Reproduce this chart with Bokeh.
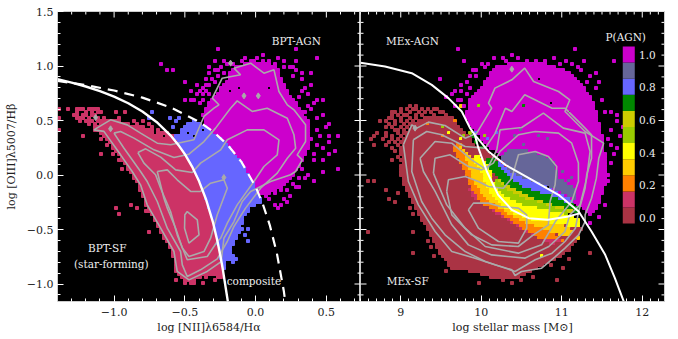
import numpy as np
from bokeh.plotting import figure
from bokeh.layouts import row
from bokeh.models import FixedTicker, ColumnDataSource
from bokeh.core.properties import value
from bokeh.embed import file_html
from bokeh.resources import INLINE

FONT = "DejaVu Serif"
GRAY = "#aaaaaa"

# ---------- class colours (P(AGN) 0.0 .. 1.0) ----------
P_VALUES = [0.0, 0.1, 0.2, 0.3, 0.4, 0.5, 0.6, 0.7, 0.8, 0.9, 1.0]
P_COLORS = ["#aa3344", "#cc3366", "#ff8000", "#ffcc00", "#ffff00", "#99cc00",
            "#cccc00", "#008800", "#6666ff", "#666699", "#cc00cc"]
P_LABELS = [0.0, 0.2, 0.4, 0.6, 0.8, 1.0]

# ---------- left panel: demarcation lines ----------
kauff_x = [-1.4, -1.3, -1.2, -1.1, -1.0, -0.9, -0.8, -0.7, -0.6, -0.55, -0.5, -0.45, -0.4, -0.35, -0.3, -0.27, -0.25, -0.23, -0.21, -0.195]
kauff_y = [0.879, 0.848, 0.812, 0.77, 0.719, 0.658, 0.582, 0.487, 0.362, 0.283, 0.191, 0.08, -0.056, -0.225, -0.44, -0.606, -0.733, -0.879, -1.046, -1.17]
kewley_x = [-1.4, -1.2, -1.0, -0.8, -0.6, -0.4, -0.3, -0.2, -0.1, 0.0, 0.05, 0.1, 0.15, 0.2, 0.21]
kewley_y = [0.864, 0.825, 0.775, 0.71, 0.62, 0.489, 0.398, 0.28, 0.12, -0.108, -0.262, -0.459, -0.716, -1.069, -1.17]

# ---------- left panel: dense regions ----------
sf_x = [-1.15, -1.02, -0.9, -0.78, -0.66, -0.59, -0.55, -0.5, -0.45, -0.4, -0.35, -0.3, -0.27, -0.25, -0.23, -0.225, -0.3, -0.38, -0.47, -0.52, -0.57, -0.59, -0.68, -0.78, -0.83, -0.89, -0.97, -1.09]
sf_y = [0.41, 0.52, 0.47, 0.43, 0.40, 0.38, 0.283, 0.191, 0.08, -0.056, -0.225, -0.44, -0.606, -0.733, -0.88, -0.96, -0.93, -0.93, -0.99, -0.95, -0.88, -0.72, -0.5, -0.28, -0.09, 0.02, 0.18, 0.38]
comp_x = [-0.58, -0.53, -0.48, -0.44, -0.4, -0.3, -0.2, -0.1, 0.0, 0.047, -0.035, -0.082, -0.13, -0.177, -0.13, -0.212, -0.2, -0.236, -0.23, -0.25, -0.27, -0.3, -0.35, -0.4, -0.45, -0.5, -0.55]
comp_y = [0.35, 0.40, 0.47, 0.50, 0.489, 0.398, 0.28, 0.12, -0.108, -0.243, -0.304, -0.396, -0.58, -0.702, -0.77, -0.794, -0.87, -0.88, -0.88, -0.733, -0.606, -0.44, -0.225, -0.056, 0.08, 0.191, 0.283]
agn_x = [-0.36, -0.377, -0.318, -0.259, -0.2, -0.177, -0.035, 0.153, 0.188, 0.247, 0.318, 0.377, 0.389, 0.342, 0.283, 0.224, 0.071, 0.024, 0.0, -0.1, -0.2, -0.3]
agn_y = [0.46, 0.552, 0.674, 0.781, 0.873, 0.98, 1.047, 1.01, 0.858, 0.735, 0.613, 0.46, 0.307, 0.154, 0.032, -0.075, -0.197, -0.182, -0.108, 0.12, 0.28, 0.398]

# sparse histogram bins (column, row from the top)
left_agn_cols = [53, 68, 79, 52, 55, 61, 68, 73, 79, 86, 34, 36, 38, 50, 52, 54, 59, 50, 53, 77, 81, 84, 52, 49, 48, 50, 47, 49, 42, 44, 42, 45, 48, 50, 51, 75, 79, 78, 81, 82, 84, 83, 86, 83, 88, 84, 88, 90, 86, 90, 93, 90, 86, 92, 88, 93, 85, 81, 80, 78, 75, 74, 77, 72, 73, 79, 82, 85, 88, 76,
                 56, 58, 63, 65, 70, 72, 75, 78, 62, 66, 80, 81, 85, 82, 86, 83, 89, 87, 84, 88, 85, 90, 46, 44, 47, 49, 51, 53, 55, 46, 48, 50, 83, 80, 76, 72, 75, 70, 74, 68, 70]
left_agn_rows = [12, 14, 12, 16, 16, 16, 16, 15, 16, 15, 17, 19, 19, 18, 19, 18, 19, 20, 19, 18, 20, 20, 23, 22, 25, 24, 26, 26, 29, 26, 23, 29, 29, 27, 30, 16, 19, 21, 22, 25, 24, 27, 29, 31, 29, 32, 34, 37, 39, 41, 41, 43, 44, 46, 49, 52, 49, 52, 55, 57, 57, 59, 61, 64, 65, 58, 55, 56, 53, 63,
                 17, 17, 17, 16, 16, 17, 18, 18, 15, 15, 28, 26, 30, 33, 35, 36, 38, 41, 42, 45, 47, 47, 27, 29, 30, 24, 22, 21, 20, 24, 27, 30, 54, 58, 59, 60, 62, 62, 64, 60, 58]
left_sf_cols = [0, 3, 14, 19, 22, 6, 9, 14, 8, 13, 14, 18, 20, 14, 21, 25, 28, 30, 33, 0, 0, 19, 20, 24, 26, 29, 25, 27, 29, 30, 33, 35, 37, 39, 39, 42, 44, 45, 48, 52, 53, 49, 51, 17, 20, 23, 26, 28, 31, 16, 18,
                6, 7, 8, 10, 11, 12, 13, 6, 9, 11, 13, 5, 6, 8, 9, 11, 12, 7, 8, 10, 13, 15, 7, 10, 11, 13, 15, 16, 10, 12, 14, 15, 17, 12, 16, 18, 15, 17]
left_sf_rows = [32, 32, 33, 33, 33, 35, 36, 36, 41, 39, 42, 44, 49, 47, 52, 36, 36, 37, 39, 35, 39, 65, 67, 64, 65, 66, 55, 57, 60, 73, 70, 73, 76, 79, 89, 90, 90, 90, 90, 89, 86, 88, 87, 37, 35, 38, 37, 38, 38, 44, 47,
                32, 32, 32, 32, 32, 32, 32, 33, 33, 33, 33, 34, 34, 34, 34, 34, 34, 35, 35, 35, 35, 35, 36, 36, 36, 36, 36, 36, 37, 37, 37, 37, 37, 38, 38, 38, 39, 39]
left_comp_cols = [31, 30, 37, 39, 38, 40, 63, 61, 59, 63, 62, 58]
left_comp_rows = [33, 35, 35, 36, 38, 35, 72, 72, 82, 76, 74, 83]
left_hole_cols = [57, 60, 70, 48, 51, 43, 45, 40, 48, 32, 35]
left_hole_rows = [26, 25, 25, 30, 26, 40, 41, 40, 39, 40, 41]

# ---------- left panel: contours ----------
left_c1_x = [-1.143, -1.025, -0.907, -0.813, -0.695, -0.60, -0.436, -0.365, -0.294, -0.259, -0.306, -0.236, -0.106, -0.153, -0.035, 0.059, 0.13, 0.165, 0.224, 0.271, 0.353, 0.353, 0.294, 0.33, 0.283, 0.247, 0.106, -0.035, -0.094, -0.153, -0.224, -0.243, -0.342, -0.471, -0.554, -0.577, -0.671, -0.766, -0.813, -0.872, -0.954, -1.072]
left_c1_y = [0.414, 0.506, 0.46, 0.384, 0.292, 0.277, 0.323, 0.537, 0.613, 0.644, 0.705, 0.888, 0.919, 0.98, 1.026, 0.934, 0.965, 0.766, 0.644, 0.598, 0.46, 0.307, 0.185, 0.139, 0.032, 0.002, -0.06, -0.151, -0.243, -0.427, -0.58, -0.794, -0.885, -0.962, -0.885, -0.702, -0.488, -0.274, -0.09, 0.032, 0.185, 0.40]
left_c2_x = [-1.001, -0.954, -0.86, -0.718, -0.577, -0.471, -0.365, -0.283, -0.177, -0.13, -0.024, 0.082, 0.224, 0.271, 0.283, 0.224, 0.153, 0.035, -0.071, -0.153, -0.2, -0.271, -0.389, -0.483, -0.518, -0.53, -0.624, -0.695, -0.766, -0.813, -0.93]
left_c2_y = [0.384, 0.399, 0.338, 0.231, 0.161, 0.191, 0.307, 0.43, 0.613, 0.68, 0.583, 0.613, 0.521, 0.369, 0.246, 0.154, 0.017, -0.121, -0.304, -0.472, -0.61, -0.769, -0.87, -0.931, -0.824, -0.702, -0.488, -0.243, -0.06, 0.032, 0.246]
left_c3_x = [-0.832, -0.777, -0.671, -0.565, -0.448, -0.389, -0.247, -0.2, -0.059, 0.059, 0.165, 0.153, 0.059, -0.012, -0.13, -0.2, -0.247, -0.271, -0.342, -0.483, -0.554, -0.601, -0.671, -0.707, -0.789]
left_c3_y = [0.206, 0.24, 0.164, 0.047, 0.023, 0.109, 0.231, 0.323, 0.414, 0.414, 0.323, 0.185, 0.078, -0.06, -0.274, -0.442, -0.58, -0.61, -0.748, -0.778, -0.549, -0.335, -0.121, 0.002, 0.109]
left_c4_x = [-0.695, -0.624, -0.554, -0.459, -0.389, -0.318, -0.224, -0.2, -0.271, -0.318, -0.365, -0.471, -0.518, -0.565, -0.624, -0.648]
left_c4_y = [0.032, 0.047, -0.044, -0.151, -0.151, -0.075, -0.044, -0.121, -0.365, -0.58, -0.702, -0.748, -0.67, -0.488, -0.304, -0.213]
left_c5_x = [-0.483, -0.412, -0.4, -0.471, -0.502, -0.5]
left_c5_y = [-0.335, -0.412, -0.549, -0.625, -0.488, -0.365]
left_dots_x = [-0.177, -0.082, 0.019, -1.025, -1.131, -0.224]
left_dots_y = [1.026, 0.726, 0.726, 0.424, 0.527, -0.023]

# ---------- right panel: demarcation lines ----------
mex_up_x = [8.5, 8.805, 9.137, 9.385, 9.592, 9.758, 9.861, 9.92, 10.09, 10.30, 10.63, 10.96, 11.21, 11.37, 11.54, 11.66, 11.77]
mex_up_y = [1.03, 0.996, 0.934, 0.827, 0.705, 0.583, 0.43, 0.368, 0.216, 0.093, -0.044, -0.182, -0.335, -0.518, -0.732, -0.947, -1.16]
mex_lo_x = [9.92, 9.965, 10.07, 10.21, 10.38, 10.59, 10.83, 11.08, 11.23]
mex_lo_y = [0.368, 0.246, 0.032, -0.182, -0.32, -0.396, -0.411, -0.38, -0.35]

# ---------- right panel: dense regions, one per P(AGN) class ----------
r_agn_x = [9.80, 9.861, 10.05, 10.17, 10.38, 10.63, 10.88, 11.12, 11.29, 11.41, 11.5, 11.54, 11.58, 11.46, 11.35, 11.25, 10.6, 10.1, 9.95, 9.85]
r_agn_y = [0.537, 0.705, 0.858, 0.995, 1.026, 1.041, 1.01, 0.934, 0.797, 0.644, 0.369, 0.185, -0.014, -0.274, -0.366, -0.30, 0.0, 0.25, 0.38, 0.45]
r_sf_x = [9.033, 9.075, 9.157, 9.344, 9.592, 9.716, 9.923, 10.46, 11.12, 11.25, 11.21, 11.08, 10.92, 10.71, 10.46, 10.17, 9.923, 9.634, 9.468, 9.344, 9.219, 9.075, 8.99]
r_sf_y = [0.338, 0.399, 0.476, 0.537, 0.537, 0.46, 0.277, 0.032, -0.457, -0.488, -0.564, -0.702, -0.778, -0.855, -0.947, -0.962, -0.885, -0.855, -0.702, -0.518, -0.366, -0.151, 0.002]
r_crim_x = [9.882, 10.006, 10.255, 10.503, 10.71, 11.041, 10.88, 10.54, 10.21, 9.965, 9.8]
r_crim_y = [-0.121, -0.274, -0.365, -0.488, -0.58, -0.61, -0.64, -0.52, -0.366, -0.243, -0.12]
r_orange_x = [9.737, 9.8, 9.903, 10.048, 10.213, 10.462, 10.834, 11.041, 10.71, 10.503, 10.255, 10.006, 9.882, 9.758, 9.654]
r_orange_y = [0.307, 0.185, -0.06, -0.212, -0.304, -0.411, -0.518, -0.61, -0.58, -0.488, -0.365, -0.274, -0.121, 0.093, 0.246]
r_amber_x = [9.882, 10.006, 10.068, 10.172, 10.379, 10.627, 11.0, 11.166, 11.041, 10.834, 10.462, 10.213, 10.048, 9.903, 9.8, 9.737]
r_amber_y = [0.154, 0.032, -0.106, -0.228, -0.35, -0.411, -0.457, -0.518, -0.58, -0.518, -0.411, -0.304, -0.212, -0.06, 0.185, 0.261]
r_yellow_x = [9.986, 10.068, 10.13, 10.172, 10.296, 10.503, 10.793, 11.083, 11.207, 11.207, 11.0, 10.627, 10.379, 10.172, 10.068, 10.006, 9.882]
r_yellow_y = [0.185, 0.109, 0.017, -0.09, -0.197, -0.274, -0.32, -0.365, -0.396, -0.488, -0.457, -0.411, -0.35, -0.228, -0.106, 0.032, 0.154]
r_yg_x = [10.193, 10.296, 10.503, 10.793, 11.083, 11.083, 10.793, 10.503, 10.296, 10.172]
r_yg_y = [-0.044, -0.121, -0.206, -0.274, -0.335, -0.365, -0.32, -0.274, -0.197, -0.09]
r_olive_x = [10.234, 10.379, 10.627, 10.959, 11.228, 11.083, 10.793, 10.503, 10.296, 10.193]
r_olive_y = [-0.044, -0.121, -0.212, -0.289, -0.35, -0.335, -0.274, -0.206, -0.121, -0.044]
r_green_x = [10.068, 10.213, 10.234, 10.337, 10.545, 10.834, 11.124, 11.207, 11.228, 10.959, 10.627, 10.379, 10.234, 10.13, 10.068]
r_green_y = [0.17, 0.124, 0.078, -0.014, -0.121, -0.182, -0.274, -0.304, -0.35, -0.289, -0.212, -0.121, -0.044, 0.017, 0.109]
r_blue_x = [10.213, 10.379, 10.627, 10.896, 11.166, 11.124, 10.834, 10.545, 10.337, 10.213]
r_blue_y = [0.124, 0.017, -0.054, -0.136, -0.243, -0.274, -0.182, -0.121, -0.014, 0.078]
r_slate_x = [10.462, 10.752, 10.917, 10.959, 11.166, 11.207, 10.876, 10.586, 10.379, 10.255, 10.296]
r_slate_y = [0.246, 0.185, 0.124, -0.029, -0.121, -0.243, -0.121, -0.044, 0.017, 0.139, 0.216]

right_agn_cols = [32, 71, 50, 47, 44, 34, 40, 64, 68, 74, 84, 42, 37, 73, 78, 26, 38, 35, 75, 31, 33, 36, 32, 78, 74, 80, 77, 81, 85, 83, 85, 82, 81, 31, 34, 80, 82, 78, 81, 79, 76,
                  48, 52, 55, 58, 61, 66, 70, 72, 76, 79, 41, 38, 36, 33, 30, 28, 35, 33, 83, 85, 86, 87, 84, 83, 82, 80, 83]
right_agn_rows = [12, 12, 14, 15, 15, 16, 17, 15, 16, 16, 16, 17, 19, 19, 20, 22, 21, 23, 23, 26, 26, 25, 29, 25, 27, 29, 31, 33, 34, 39, 45, 42, 50, 31, 31, 57, 54, 63, 64, 68, 70,
                  16, 15, 16, 16, 16, 17, 17, 18, 21, 23, 18, 19, 21, 24, 27, 28, 27, 29, 33, 36, 41, 38, 47, 50, 56, 60, 44]
right_sf_cols = [2, 4, 8, 9, 11, 12, 14, 16, 17, 20, 2, 17, 22, 23, 24, 17, 28, 29, 30, 32, 36, 38, 39, 44, 47, 50, 53, 57, 65, 67, 63, 76, 69, 40, 42, 54,
                 16, 18, 13, 15, 17, 18, 20, 22, 24, 25, 10, 11, 13, 16, 19, 21, 23, 26, 27, 10, 12, 14, 15, 18, 20, 24, 28, 9, 10, 13, 16, 18, 21, 22, 25, 29, 30,
                 6, 8, 11, 13, 15, 17, 19, 20, 23, 26, 9, 11, 14, 16, 18, 22, 8, 10, 13, 15, 17, 11, 12, 14, 16, 5, 8, 12, 14, 4, 8, 10, 13, 3, 7, 10, 12, 14,
                 9, 11, 13, 4, 8, 12, 14, 10, 13, 11, 13, 14, 13, 12, 14, 10, 13, 13]
right_sf_rows = [56, 56, 59, 62, 63, 60, 57, 65, 67, 68, 73, 73, 76, 78, 81, 80, 86, 84, 85, 85, 86, 86, 90, 88, 89, 90, 89, 88, 89, 85, 84, 80, 82, 87, 87, 86,
                 31, 31, 32, 32, 32, 32, 32, 32, 32, 32, 33, 33, 33, 33, 33, 33, 33, 33, 33, 34, 34, 34, 34, 34, 34, 34, 34, 35, 35, 35, 35, 35, 35, 35, 35, 35, 35,
                 36, 36, 36, 36, 36, 36, 36, 36, 36, 36, 37, 37, 37, 37, 37, 37, 38, 38, 38, 38, 38, 39, 39, 39, 39, 40, 40, 40, 40, 41, 41, 41, 41, 42, 42, 42, 42, 42,
                 43, 43, 43, 44, 44, 44, 44, 45, 45, 46, 46, 46, 47, 48, 48, 49, 49, 51]
right_slate_cols = [53, 54, 59, 62, 67, 69, 70, 51]
right_slate_rows = [39, 44, 41, 42, 53, 56, 55, 41]
right_blue_cols = [45, 38, 42]
right_blue_rows = [40, 40, 42]
right_green_cols = [38, 40, 37, 54]
right_green_rows = [43, 45, 41, 31]
right_yg_cols = [34, 36, 41, 27, 39]
right_yg_rows = [41, 40, 41, 38, 31]
right_yellow_cols = [29, 33, 60]
right_yellow_rows = [40, 42, 81]
right_orange_cols = [22, 31, 27]
right_orange_rows = [37, 36, 41]
right_amber_cols = [33, 72]
right_amber_rows = [31, 75]
right_hole_cols = [59, 63, 69, 40, 36]
right_hole_rows = [22, 30, 33, 23, 26]

# ---------- right panel: contours ----------
right_c1_x = [9.033, 9.137, 9.2, 9.344, 9.55, 9.8, 9.944, 10.13, 10.09, 10.17, 10.38, 10.54, 10.65, 10.96, 11.1, 11.04, 11.29, 11.52, 11.46, 11.43, 11.37, 11.29, 11.29, 11.21, 11.04, 10.92, 10.75, 10.5, 10.42, 10.38, 10.17, 9.923, 9.634, 9.427, 9.219, 9.095]
right_c1_y = [0.277, 0.46, 0.43, 0.485, 0.454, 0.338, 0.384, 0.613, 0.659, 0.797, 0.873, 0.98, 0.858, 0.766, 0.69, 0.583, 0.399, 0.292, 0.154, -0.029, -0.213, -0.366, -0.427, -0.549, -0.671, -0.748, -0.855, -0.885, -0.922, -0.87, -0.824, -0.763, -0.702, -0.518, -0.274, -0.06]
right_c2_x = [9.157, 9.323, 9.509, 9.8, 10.048, 10.17, 10.3, 10.38, 10.54, 10.71, 10.88, 11.04, 11.25, 11.37, 11.37, 11.31, 11.29, 11.21, 11.17, 11.04, 10.88, 10.67, 10.42, 10.05, 9.8, 9.55, 9.385, 9.26, 9.137]
right_c2_y = [0.323, 0.399, 0.369, 0.261, 0.246, 0.38, 0.613, 0.583, 0.736, 0.674, 0.613, 0.613, 0.46, 0.369, 0.154, 0.002, -0.121, -0.335, -0.488, -0.61, -0.717, -0.778, -0.885, -0.794, -0.702, -0.549, -0.396, -0.243, 0.032]
right_c3_x = [9.24, 9.426, 9.634, 9.882, 10.068, 10.193, 10.234, 10.503, 10.772, 11.02, 11.29, 11.352, 11.31, 11.228, 11.1, 11.04, 10.84, 10.54, 10.13, 9.84, 9.634, 9.427, 9.282]
right_c3_y = [0.154, 0.307, 0.292, 0.139, 0.047, 0.231, 0.414, 0.436, 0.567, 0.43, 0.384, 0.216, -0.029, -0.274, -0.366, -0.518, -0.656, -0.763, -0.733, -0.641, -0.457, -0.151, 0.032]
right_c4_x = [9.406, 9.426, 9.613, 9.84, 10.006, 10.15, 10.234, 10.462, 10.67, 10.96, 11.124, 11.207, 11.207, 11.124, 10.92, 10.75, 10.46, 10.05, 9.8, 9.571]
right_c4_y = [0.017, 0.154, 0.185, 0.078, 0.047, 0.109, 0.216, 0.369, 0.399, 0.384, 0.292, 0.109, -0.06, -0.243, -0.427, -0.641, -0.717, -0.656, -0.488, -0.274]
right_c5_x = [9.571, 9.592, 9.8, 9.965, 10.089, 10.275, 10.379, 10.462, 10.67, 10.834, 10.938, 10.917, 10.855, 10.834, 10.648, 10.46, 10.13, 9.88, 9.634]
right_c5_y = [-0.151, -0.044, -0.014, -0.06, -0.106, -0.121, -0.029, 0.185, 0.216, 0.17, 0.078, -0.09, -0.243, -0.457, -0.549, -0.656, -0.641, -0.549, -0.366]
right_c6_x = [9.84, 9.903, 10.089, 10.234, 10.462, 10.565, 10.565, 10.462, 10.213, 9.965]
right_c6_y = [-0.32, -0.258, -0.258, -0.289, -0.304, -0.366, -0.488, -0.625, -0.61, -0.488]
right_dots_x = [10.38, 9.178]
right_dots_y = [0.971, 0.43]

# ---------- axes ----------
LX_PX, RX_PX, Y_PX = 141.5, 80.5, 109.0   # pixels per unit
L_XR = (-1.4, -1.4 + 303 / LX_PX)
R_XR = (8.5, 8.5 + 304 / RX_PX)
YR = (1.5 - 290 / Y_PX, 1.5)
L_XT = [-1.0, -0.5, 0.0, 0.5]
R_XT = [9, 10, 11, 12]
YT = [-1.0, -0.5, 0.0, 0.5, 1.0, 1.5]
L_XTL = {-1.0: "\u22121.0", -0.5: "\u22120.5", 0.0: "0.0", 0.5: "0.5"}
R_XTL = {9: "9", 10: "10", 11: "11", 12: "12"}
YTL = {-1.0: "\u22121.0", -0.5: "\u22120.5", 0.0: "0.0", 0.5: "0.5", 1.0: "1.0", 1.5: "1.5"}
L_XM = [round(-1.4 + 0.1 * i, 1) for i in range(22)]
R_XM = [round(8.5 + 0.1 * i, 1) for i in range(38)]
YM = [round(-1.1 + 0.1 * i, 1) for i in range(27)]
AX_SIZE = "11px"
INK = "#222222"


def inside(xs, ys, px, py):
    px, py = np.asarray(px, float), np.asarray(py, float)
    res = np.zeros(xs.shape, bool)
    n = len(px)
    for i in range(n):
        j = (i - 1) % n
        dy = py[j] - py[i]
        if dy == 0:
            continue
        cond = (py[i] > ys) != (py[j] > ys)
        xint = px[i] + (ys - py[i]) / dy * (px[j] - px[i])
        res ^= cond & (xs < xint)
    return res


def cells(xr, dx, dy, polys, sparse, holes):
    ncol = int((xr[1] - xr[0]) / dx + 1e-6)
    nrow = int((YR[1] - YR[0]) / dy + 1e-6)
    cx = xr[0] + (np.arange(ncol) + 0.5) * dx
    cy = YR[1] - (np.arange(nrow) + 0.5) * dy
    xs, ys = np.meshgrid(cx, cy)
    grid = -np.ones((nrow, ncol), int)
    for k, px, py in polys:
        grid[inside(xs, ys, px, py)] = k
    for k, cols, rows in sparse:
        for c, r in zip(cols, rows):
            grid[r, c] = k
    for c, r in zip(*holes):
        grid[r, c] = -1
    out = dict(left=[], right=[], top=[], bottom=[], color=[])
    for r in range(nrow):
        c = 0
        while c < ncol:
            k = grid[r, c]
            e = c
            while e + 1 < ncol and grid[r, e + 1] == k:
                e += 1
            if k >= 0:
                out["left"].append(xr[0] + c * dx)
                out["right"].append(xr[0] + (e + 1) * dx)
                out["top"].append(YR[1] - r * dy)
                out["bottom"].append(YR[1] - (r + 1) * dy)
                out["color"].append(P_COLORS[k])
            c = e + 1
    return ColumnDataSource(out)


def style_axis(a, ticks, minors, labels):
    a.ticker = FixedTicker(ticks=ticks, minor_ticks=minors)
    a.major_tick_in = 6
    a.major_tick_out = 0
    a.minor_tick_in = 3
    a.minor_tick_out = 0
    a.major_tick_line_color = "white"
    a.minor_tick_line_color = "white"
    a.axis_line_color = "#cccccc"
    a.major_label_overrides = labels
    a.major_label_text_font = FONT
    a.major_label_text_font_size = AX_SIZE
    a.major_label_text_color = INK
    a.axis_label_text_font = FONT
    a.axis_label_text_font_size = AX_SIZE
    a.axis_label_text_font_style = "normal"
    a.axis_label_text_color = INK


def edge_ticks(p, xr, xpx, xt, xm, left_side, right_side):
    """inner ticks on the sides that carry no axis of their own"""
    xs0, xs1, ys0, ys1 = [], [], [], []
    for v, n in [(t, 6) for t in xt] + [(t, 3) for t in xm if t not in xt]:
        xs0.append(v); xs1.append(v); ys0.append(YR[1]); ys1.append(YR[1] - n / Y_PX)
    for v, n in [(t, 6) for t in YT] + [(t, 3) for t in YM if t not in YT]:
        if right_side:
            xs0.append(xr[1]); xs1.append(xr[1] - n / xpx); ys0.append(v); ys1.append(v)
        if left_side:
            xs0.append(xr[0]); xs1.append(xr[0] + n / xpx); ys0.append(v); ys1.append(v)
    p.segment(xs0, ys0, xs1, ys1, line_color="white", line_width=1)


def draw_lines(p, cx, cy):
    p.multi_line([list(x) + [x[0]] for x in cx], [list(y) + [y[0]] for y in cy],
                 line_color=GRAY, line_width=1.6)


def label(p, x, y, t, align="center", size="10.5px"):
    p.text([x], [y], text=[t], text_color="#eeeeee", text_font=value(FONT), text_font_size=size,
           text_align=align, text_baseline="middle")


# ---------- left panel ----------
p1 = figure(width=360, height=336, x_range=L_XR, y_range=YR, toolbar_location=None,
            output_backend="svg", background_fill_color="black", border_fill_color="white",
            min_border_left=57, min_border_right=0, min_border_top=11, min_border_bottom=35,
            x_axis_label="log [NII]\u03bb6584/H\u03b1", y_axis_label="log [OIII]\u03bb5007/H\u03b2")
p1.grid.visible = False
p1.outline_line_color = "#cccccc"
style_axis(p1.xaxis[0], L_XT, L_XM, L_XTL)
style_axis(p1.yaxis[0], YT, YM, YTL)
p1.xaxis[0].major_label_standoff = 6
p1.xaxis[0].axis_label_standoff = 2
p1.yaxis[0].major_label_standoff = 4
p1.yaxis[0].axis_label_standoff = 6
src1 = cells(L_XR, 3 / LX_PX, 3 / Y_PX,
             [(10, agn_x, agn_y), (8, comp_x, comp_y), (1, sf_x, sf_y)],
             [(10, left_agn_cols, left_agn_rows), (1, left_sf_cols, left_sf_rows), (8, left_comp_cols, left_comp_rows)],
             (left_hole_cols, left_hole_rows))
p1.quad(left="left", right="right", top="top", bottom="bottom", fill_color="color", line_color="color",
        line_width=1.0, source=src1)
edge_ticks(p1, L_XR, LX_PX, L_XT, L_XM, False, True)
draw_lines(p1, [left_c1_x, left_c2_x, left_c3_x, left_c4_x, left_c5_x], [left_c1_y, left_c2_y, left_c3_y, left_c4_y, left_c5_y])
p1.scatter(left_dots_x, left_dots_y, marker="diamond", size=6, color=GRAY)
p1.line(kewley_x, kewley_y, line_color="white", line_width=2.2, line_dash="10 7")
p1.line(kauff_x, kauff_y, line_color="white", line_width=2.4)
label(p1, 0.288, 1.225, "BPT-AGN")
label(p1, -1.048, -0.672, "BPT-SF")
label(p1, -1.02, -0.82, "(star-forming)")
label(p1, -0.012, -0.977, "composite")

# ---------- right panel ----------
p2 = figure(width=314, height=336, x_range=R_XR, y_range=YR, toolbar_location=None,
            output_backend="svg", background_fill_color="black", border_fill_color="white",
            min_border_left=0, min_border_right=10, min_border_top=11, min_border_bottom=35,
            x_axis_label="log stellar mass [M\u2299]")
p2.grid.visible = False
p2.outline_line_color = "#cccccc"
p2.yaxis.visible = False
style_axis(p2.xaxis[0], R_XT, R_XM, R_XTL)
p2.xaxis[0].major_label_standoff = 6
p2.xaxis[0].axis_label_standoff = 2
src2 = cells(R_XR, 3 / RX_PX, 3 / Y_PX,
             [(10, r_agn_x, r_agn_y), (0, r_sf_x, r_sf_y),
              (1, r_crim_x, r_crim_y), (2, r_orange_x, r_orange_y),
              (3, r_amber_x, r_amber_y), (4, r_yellow_x, r_yellow_y), (5, r_yg_x, r_yg_y), (6, r_olive_x, r_olive_y),
              (7, r_green_x, r_green_y), (8, r_blue_x, r_blue_y), (9, r_slate_x, r_slate_y)],
             [(10, right_agn_cols, right_agn_rows), (0, right_sf_cols, right_sf_rows), (9, right_slate_cols, right_slate_rows),
              (8, right_blue_cols, right_blue_rows), (7, right_green_cols, right_green_rows), (5, right_yg_cols, right_yg_rows),
              (4, right_yellow_cols, right_yellow_rows), (2, right_orange_cols, right_orange_rows), (3, right_amber_cols, right_amber_rows)],
             (right_hole_cols, right_hole_rows))
p2.quad(left="left", right="right", top="top", bottom="bottom", fill_color="color", line_color="color",
        line_width=1.0, source=src2)
edge_ticks(p2, R_XR, RX_PX, R_XT, R_XM, True, True)
draw_lines(p2, [right_c1_x, right_c2_x, right_c3_x, right_c4_x, right_c5_x, right_c6_x],
           [right_c1_y, right_c2_y, right_c3_y, right_c4_y, right_c5_y, right_c6_y])
p2.scatter(right_dots_x, right_dots_y, marker="diamond", size=6, color=GRAY)
p2.line(mex_up_x, mex_up_y, line_color="white", line_width=2.0)
p2.line(mex_lo_x, mex_lo_y, line_color="white", line_width=2.0)
label(p2, 9.145, 1.225, "MEx-AGN")
label(p2, 9.087, -0.968, "MEx-SF")
label(p2, 11.795, 1.27, "P(AGN)")

# colour bar: one swatch per P(AGN) class
bar_y = [-0.372 + 1.477 * v for v in P_VALUES]
p2.quad(left=[11.758] * 11, right=[11.907] * 11, top=[y + 0.0739 for y in bar_y],
        bottom=[y - 0.0739 for y in bar_y], fill_color=P_COLORS, line_color=None)
for v in P_LABELS:
    label(p2, 11.96, -0.396 + 1.5 * v, f"{v:.1f}", align="left")

layout = row(p1, p2)
open("out.html", "w").write(file_html(layout, INLINE))
